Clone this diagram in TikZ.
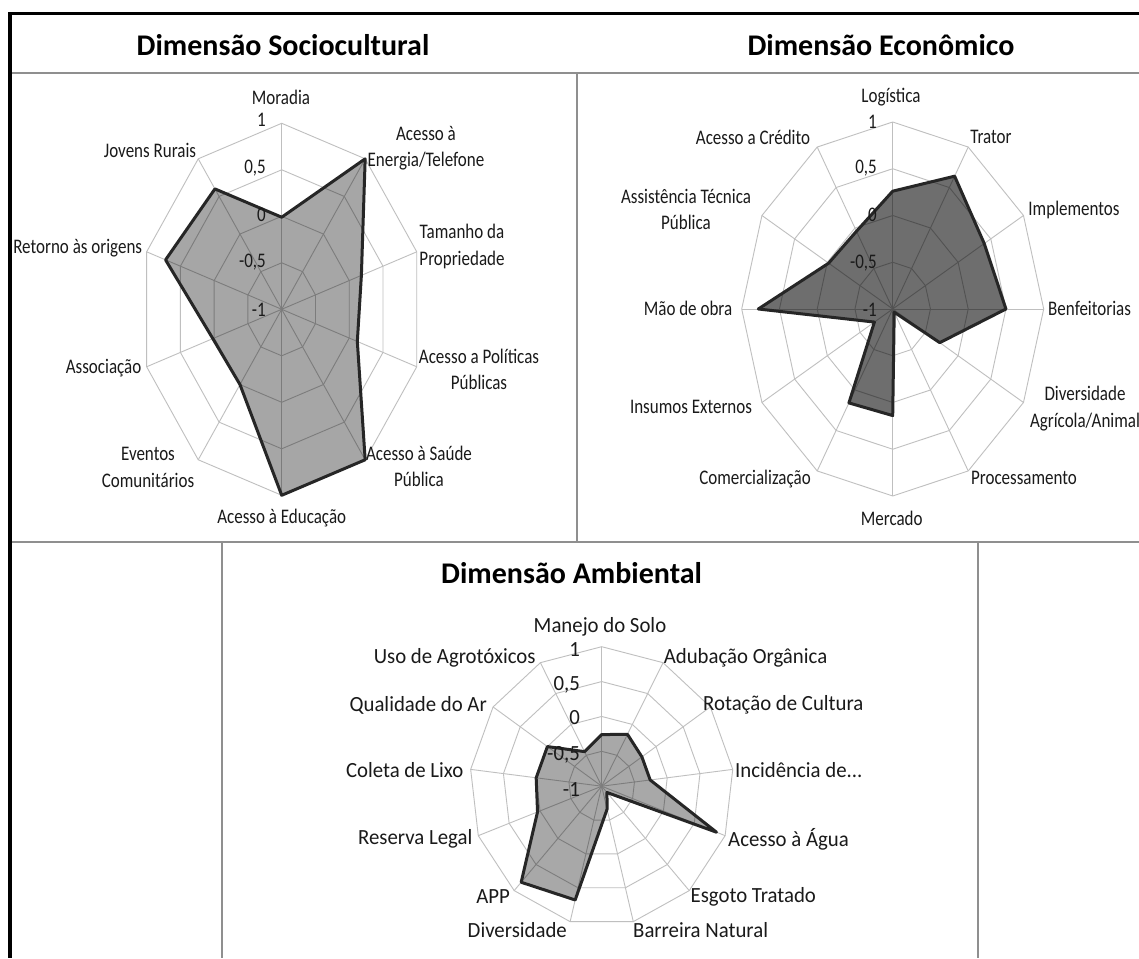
\documentclass[tikz,border=0pt]{standalone}
\usepackage{fontspec}
\setmainfont{Carlito}
\definecolor{gridgray}{HTML}{BFBFBF}
\definecolor{framegray}{HTML}{8F8F8F}
\definecolor{txt}{HTML}{1A1A1A}
\definecolor{serline}{HTML}{262626}
\begin{document}
\begin{tikzpicture}[x=1pt,y=1pt,
  grid/.style={draw=gridgray, line width=0.9pt},
  series/.style={draw=serline, line width=3pt, line join=round},
  ttl/.style={font=\bfseries\fontsize{30}{36}\selectfont, text=black, inner sep=0pt},
  labA/.style={font=\fontsize{17}{21.6}\selectfont, text=txt, align=center, inner sep=0pt, yscale=1.22, transform shape},
  labC/.style={font=\fontsize{20.8}{25}\selectfont, text=txt, align=center, inner sep=0pt, yscale=1.04, transform shape},
  tickA/.style={labA, anchor=east},
  tickC/.style={labC, anchor=east}]
\useasboundingbox (0,0) rectangle (1139,958);
\fill[white] (0,0) rectangle (1139,958);

% ---------- frame ----------
\draw[framegray, line width=2pt] (11,885) -- (1139,885);
\draw[framegray, line width=2pt] (576.7,885) -- (576.7,416);
\draw[framegray, line width=2pt] (11,416) -- (1139,416);
\draw[framegray, line width=2pt] (221.7,416) -- (221.7,0);
\draw[framegray, line width=2pt] (978.3,416) -- (978.3,0);
\draw[black, line width=3.5pt, line join=miter] (1139,944.7) -- (10,944.7) -- (10,0);

% ---------- titles ----------
\node[ttl] (t1) at (283,913) {Dimensão Sociocultural};
\node[ttl] (t2) at (881,913) {Dimensão Econômico};
\node[ttl] (t3) at (571.6,384.7) {Dimensão Ambiental};

% ---------- chart 1 : Sociocultural ----------
\begin{scope}[shift={(281.7,648.7)}, x=142pt, y=186pt]
  \foreach \r in {0.25,0.5,0.75,1}
    \draw[grid] (90:\r) \foreach \k in {1,...,9} { -- ({90-\k*36}:\r) } -- cycle;
  \foreach \k in {0,...,9} \draw[grid] (0,0) -- ({90-\k*36}:1);
  \fill[black, fill opacity=0.35] (90:0.495) -- (54:1.0) -- (18:0.59) -- (-18:0.56) -- (-54:1.0) -- (-90:1.0) -- (-126:0.5) -- (-162:0.51) -- (162:0.86) -- (126:0.8) -- cycle;
  \draw[series] (90:0.495) -- (54:1.0) -- (18:0.59) -- (-18:0.56) -- (-54:1.0) -- (-90:1.0) -- (-126:0.5) -- (-162:0.51) -- (162:0.86) -- (126:0.8) -- cycle;
\end{scope}
\node[tickA] (a1) at (266,838) {1};
\node[tickA] (a2) at (266,790) {0,5};
\node[tickA] (a3) at (266,743) {0};
\node[tickA] (a4) at (266,696) {-0,5};
\node[tickA] (a5) at (266,648) {-1};
\node[labA] (s0) at (281,861) {Moradia};
\node[labA] (s1) at (426,809.5) {Acesso à\\Energia/Telefone};
\node[labA] (s2) at (462,711.5) {Tamanho da\\Propriedade};
\node[labA] (s3) at (479,588.5) {Acesso a Políticas\\Públicas};
\node[labA] (s4) at (419,491.5) {Acesso à Saúde\\Pública};
\node[labA] (s5) at (281.7,439.7) {Acesso à Educação};
\node[labA] (s6) at (148,490.5) {Eventos\\Comunitários};
\node[labA] (s7) at (103.6,590) {Associação};
\node[labA] (s8) at (77.7,710) {Retorno às origens};
\node[labA] (s9) at (150,808) {Jovens Rurais};

% ---------- chart 2 : Econômico ----------
\begin{scope}[shift={(892.7,649)}, x=151pt, y=187pt]
  \foreach \r in {0.25,0.5,0.75,1}
    \draw[grid] (90:\r) \foreach \k in {1,...,11} { -- ({90-\k*30}:\r) } -- cycle;
  \foreach \k in {0,...,11} \draw[grid] (0,0) -- ({90-\k*30}:1);
  \fill[black, fill opacity=0.57] (90:0.63) -- (60:0.82) -- (30:0.7) -- (0:0.75) -- (-30:0.36) -- (-60:0.02) -- (-90:0.57) -- (-120:0.58) -- (-150:0.14) -- (180:0.89) -- (150:0.49) -- (120:0.48) -- cycle;
  \draw[series] (90:0.63) -- (60:0.82) -- (30:0.7) -- (0:0.75) -- (-30:0.36) -- (-60:0.02) -- (-90:0.57) -- (-120:0.58) -- (-150:0.14) -- (180:0.89) -- (150:0.49) -- (120:0.48) -- cycle;
\end{scope}
\node[tickA] (b1) at (877,836) {1};
\node[tickA] (b2) at (877,790) {0,5};
\node[tickA] (b3) at (877,743) {0};
\node[tickA] (b4) at (877,695) {-0,5};
\node[tickA] (b5) at (877,648) {-1};
\node[labA] (e0) at (891,861) {Logística};
\node[labA] (e1) at (991,821) {Trator};
\node[labA] (e2) at (1074,748) {Implementos};
\node[labA, anchor=west] (e3) at (1048,650) {Benfeitorias};
\node[labA] (e4) at (1085,549.5) {Diversidade\\Agrícola/Animal};
\node[labA] (e5) at (1024,480) {Processamento};
\node[labA] (e6) at (891.7,439.7) {Mercado};
\node[labA] (e7) at (755,478.7) {Comercialização};
\node[labA] (e8) at (691,551.3) {Insumos Externos};
\node[labA] (e9) at (688,650) {Mão de obra};
\node[labA] (e10) at (686,748.5) {Assistência Técnica\\Pública};
\node[labA] (e11) at (753,821) {Acesso a Crédito};

% ---------- chart 3 : Ambiental ----------
\begin{scope}[shift={(601.7,171.8)}, x=132pt, y=139.5pt]
  \foreach \r in {0.25,0.5,0.75,1}
    \draw[grid] (90:\r) \foreach \k in {1,...,12} { -- ({90-\k*360/13}:\r) } -- cycle;
  \foreach \k in {0,...,12} \draw[grid] (0,0) -- ({90-\k*360/13}:1);
  \fill[black, fill opacity=0.34] (90:0.37) -- ({90-1*360/13}:0.42) -- ({90-2*360/13}:0.37) -- ({90-3*360/13}:0.37) -- ({90-4*360/13}:0.93) -- ({90-5*360/13}:0.06) -- ({90-6*360/13}:0.17) -- ({90-7*360/13}:0.84) -- ({90-8*360/13}:0.92) -- ({90-9*360/13}:0.52) -- ({90-10*360/13}:0.5) -- ({90-11*360/13}:0.5) -- ({90-12*360/13}:0.28) -- cycle;
  \draw[series] (90:0.37) -- ({90-1*360/13}:0.42) -- ({90-2*360/13}:0.37) -- ({90-3*360/13}:0.37) -- ({90-4*360/13}:0.93) -- ({90-5*360/13}:0.06) -- ({90-6*360/13}:0.17) -- ({90-7*360/13}:0.84) -- ({90-8*360/13}:0.92) -- ({90-9*360/13}:0.52) -- ({90-10*360/13}:0.5) -- ({90-11*360/13}:0.5) -- ({90-12*360/13}:0.28) -- cycle;
\end{scope}
\node[tickC] (c1) at (580,308) {1};
\node[tickC] (c2) at (580,273) {0,5};
\node[tickC] (c3) at (580,240) {0};
\node[tickC] (c4) at (580,203) {-0,5};
\node[tickC] (c5) at (580,168) {-1};
\node[labC] (m0) at (600,331.3) {Manejo do Solo};
\node[labC, anchor=west] (m1) at (663.6,299.7) {Adubação Orgânica};
\node[labC, anchor=west] (m2) at (703,253) {Rotação de Cultura};
\node[labC, anchor=west] (m3) at (735,188) {Incidência de...};
\node[labC, anchor=west] (m4) at (728,118.7) {Acesso à Água};
\node[labC, anchor=west] (m5) at (690.4,61.3) {Esgoto Tratado};
\node[labC, anchor=west] (m6) at (633,28) {Barreira Natural};
\node[labC, anchor=east] (m7) at (567,28) {Diversidade};
\node[labC, anchor=east] (m8) at (510,61.3) {APP};
\node[labC, anchor=east] (m9) at (472.5,118.7) {Reserva Legal};
\node[labC, anchor=east] (m10) at (463.6,188) {Coleta de Lixo};
\node[labC, anchor=east] (m11) at (487,253) {Qualidade do Ar};
\node[labC, anchor=east] (m12) at (535.7,299.7) {Uso de Agrotóxicos};
\end{tikzpicture}
\end{document}
